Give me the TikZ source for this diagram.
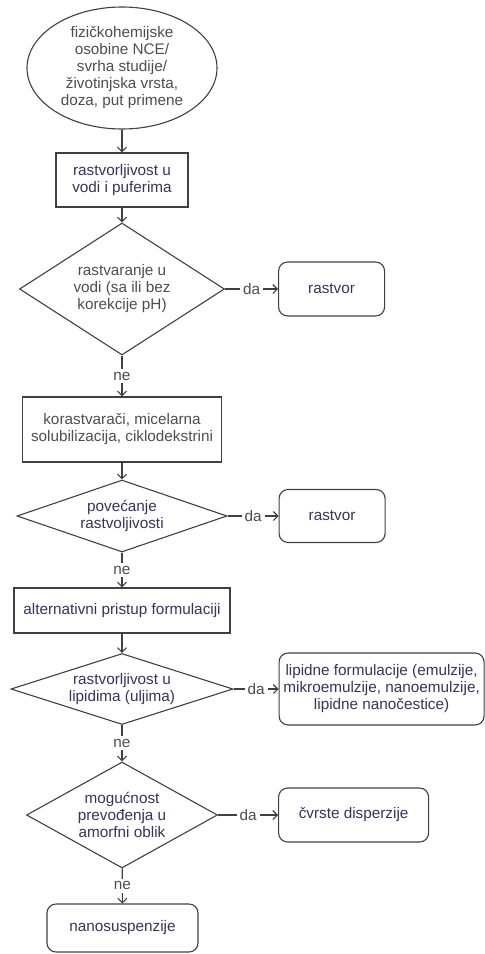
\documentclass[tikz,border=0pt]{standalone}
\usepackage{fontspec}
\setmainfont{Liberation Sans}
\usetikzlibrary{arrows.meta,shapes.geometric,positioning}

\definecolor{linegray}{HTML}{404040}
\definecolor{textgray}{HTML}{4D4D4D}
\definecolor{textnavy}{HTML}{34345E}

\begin{document}
\begin{tikzpicture}[->,>={Straight Barb[length=4.5pt,width=9pt]},x=1pt,y=-1pt,line width=1.1pt,color=linegray,
    every node/.style={font=\fontsize{15.3}{17}\selectfont,align=center}]

            \tikzstyle{start}=[ellipse,draw,minimum width=190,minimum height=122,inner sep=0,text=textgray]
            \tikzstyle{process}=[rectangle,draw,inner sep=0]
            \tikzstyle{decision}=[diamond,draw,inner sep=0]
            \tikzstyle{result}=[rectangle,rounded corners=9,draw,inner sep=0,text=textnavy]
            \tikzstyle{answer}=[fill=white,inner sep=3,text=textgray]

            \useasboundingbox (0,0) rectangle (485,954);

            \node[start] (e) at (122,68) {fizičkohemijske\\osobine NCE/\\svrha studije/\\životinjska vrsta,\\doza, put primene};
            \node[process,minimum width=132,minimum height=54,text=textnavy] (b1) at (122,180) {rastvorljivost u\\vodi i puferima};
            \node[decision,aspect=1.55,minimum width=205,minimum height=132,text=textgray] (d1) at (122,289) {rastvaranje u\\vodi (sa ili bez\\korekcije pH)};
            \node[result,minimum width=106,minimum height=54] (r1) [right=53 of d1] {rastvor};

            \node[process,minimum width=199,minimum height=65,text=textgray] (b2) at (122,429.5) {korastvarači, micelarna\\solubilizacija, ciklodekstrini};
            \node[decision,aspect=2.9,minimum width=210,minimum height=72,text=textnavy] (d2) at (122,516) {povećanje\\rastvoljivosti};
            \node[result,minimum width=106,minimum height=53] (r2) [right=51 of d2] {rastvor};

            \node[process,minimum width=216,minimum height=45,text=textnavy] (b3) at (122,610.5) {alternativni pristup formulaciji};
            \node[decision,aspect=3.1,minimum width=222,minimum height=71,text=textnavy] (d3) at (122,689) {rastvorljivost u\\lipidima (uljima)};
            \node[result,minimum width=205,minimum height=72] (r3) [right=45 of d3] {lipidne formulacije (emulzije,\\mikroemulzije, nanoemulzije,\\lipidne nanočestice)};

            \node[decision,aspect=1.8,minimum width=191,minimum height=106,text=textnavy] (d4) at (122,815) {mogućnost\\prevođenja u\\amorfni oblik};
            \node[result,minimum width=150,minimum height=54] (r4) [right=60 of d4] {čvrste disperzije};
            \node[result,minimum width=151,minimum height=48] (r5) at (122.5,928) {nanosuspenzije};

            \draw (e) -- (b1);
            \draw (b1) -- (d1);
            \draw (d1) -- node[answer] {da} (r1);
            \draw (d1) -- node[answer] {ne} (b2);
            \draw (b2) -- (d2);
            \draw (d2) -- node[answer] {da} (r2);
            \draw (d2) -- node[answer] {ne} (b3);
            \draw (b3) -- (d3);
            \draw (d3) -- node[answer] {da} (r3);
            \draw (d3) -- node[answer] {ne} (d4);
            \draw (d4) -- node[answer] {da} (r4);
            \draw (d4) -- node[answer] {ne} (r5);
        \end{tikzpicture}
\end{document}
